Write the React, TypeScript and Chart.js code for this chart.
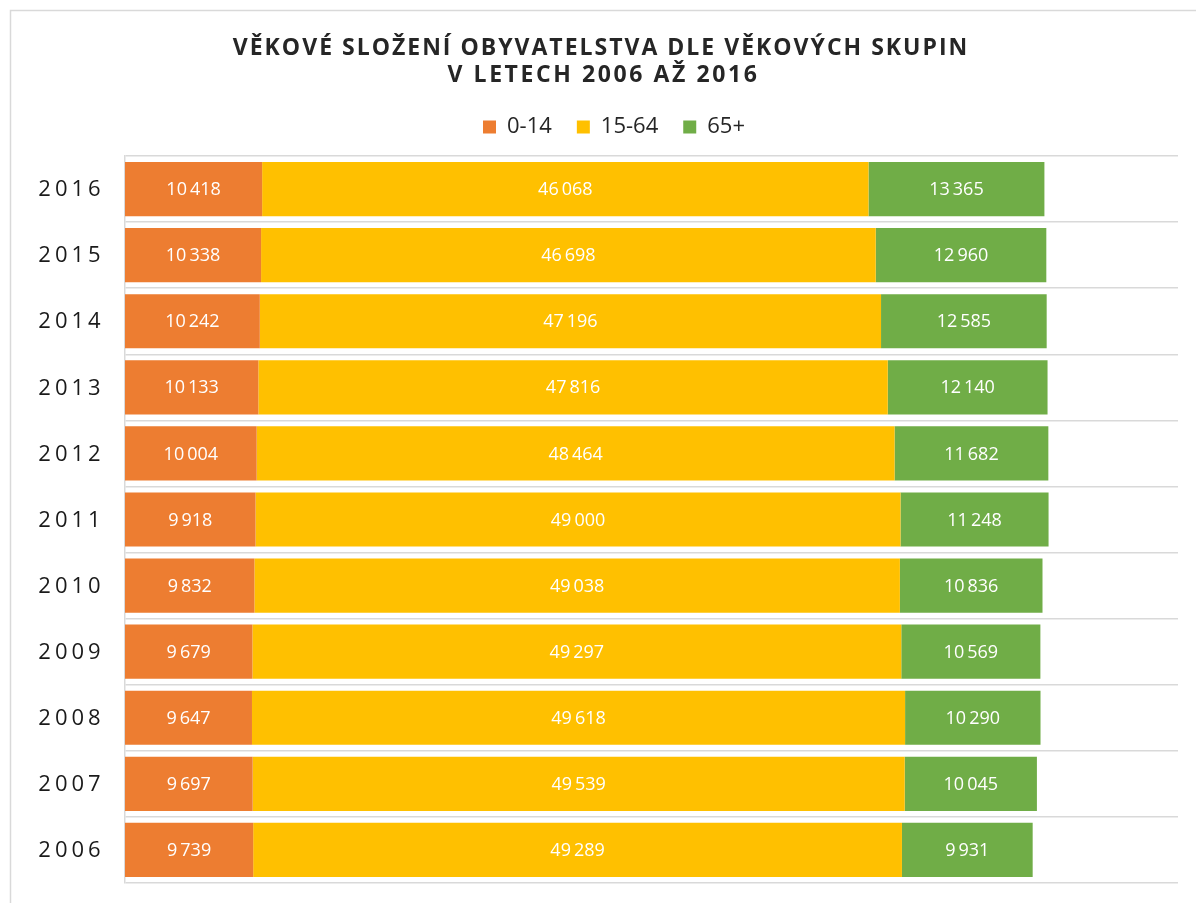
import React, { useEffect, useRef } from "react";
import { Chart, registerables } from "chart.js";

Chart.register(...registerables);

const titleLines = [
  "VĚKOVÉ SLOŽENÍ OBYVATELSTVA DLE VĚKOVÝCH SKUPIN",
  "V LETECH 2006 AŽ 2016",
];
const years = ["2016", "2015", "2014", "2013", "2012", "2011", "2010", "2009", "2008", "2007", "2006"];
const seriesNames = ["0-14", "15-64", "65+"];
const age0to14 = [10418, 10338, 10242, 10133, 10004, 9918, 9832, 9679, 9647, 9697, 9739];
const age15to64 = [46068, 46698, 47196, 47816, 48464, 49000, 49038, 49297, 49618, 49539, 49289];
const age65plus = [13365, 12960, 12585, 12140, 11682, 11248, 10836, 10569, 10290, 10045, 9931];
const seriesColors = ["#ED7D31", "#FFC000", "#70AD47"];

const fmt = (v: number) => String(v).replace(/\B(?=(\d{3})+(?!\d))/g, "\u2009");

const decorPlugin = {
  id: "decor",
  beforeDraw(chart: any) {
    const ctx = chart.ctx;
    ctx.save();
    ctx.strokeStyle = "#d9d9d9";
    ctx.lineWidth = 1.5;
    ctx.beginPath();
    ctx.moveTo(10.5, chart.height);
    ctx.lineTo(10.5, 10.5);
    ctx.lineTo(chart.width, 10.5);
    ctx.stroke();
    ctx.restore();
  },
  afterDatasetsDraw(chart: any) {
    const ctx = chart.ctx;
    ctx.save();
    ctx.font = '18px "Open Sans"';
    ctx.fillStyle = "#ffffff";
    ctx.textAlign = "center";
    ctx.textBaseline = "middle";
    chart.data.datasets.forEach((ds: any, di: number) => {
      const meta = chart.getDatasetMeta(di);
      meta.data.forEach((bar: any, i: number) => {
        const cx = (bar.x + bar.base) / 2;
        ctx.fillText(fmt(ds.data[i]), cx, bar.y + 1);
      });
    });
    ctx.restore();
  },
  afterDraw(chart: any) {
    const ctx = chart.ctx;
    const yScale = chart.scales.y;
    ctx.save();
    ctx.font = '22px "Open Sans"';
    ctx.fillStyle = "#1a1a1a";
    ctx.textAlign = "center";
    ctx.textBaseline = "middle";
    (ctx as any).letterSpacing = "4px";
    years.forEach((y, i) => {
      ctx.fillText(y, 71.5, yScale.getPixelForValue(i) + 1);
    });
    ctx.font = 'bold 23px "Open Sans"';
    ctx.fillStyle = "#262626";
    ctx.textBaseline = "alphabetic";
    (ctx as any).letterSpacing = "2px";
    ctx.fillText(titleLines[0], 601, 55);
    (ctx as any).letterSpacing = "2.6px";
    ctx.fillText(titleLines[1], 603.5, 82);
    ctx.restore();
  },
};

export default function App() {
  const ref = useRef<HTMLCanvasElement>(null);
  useEffect(() => {
    const prevMargin = document.body.style.margin;
    document.body.style.margin = "0";
    const chart = new Chart(ref.current!, {
      type: "bar",
      data: {
        labels: years,
        datasets: [
          { label: seriesNames[0], data: age0to14, backgroundColor: seriesColors[0] },
          { label: seriesNames[1], data: age15to64, backgroundColor: seriesColors[1] },
          { label: seriesNames[2], data: age65plus, backgroundColor: seriesColors[2] },
        ],
      },
      options: {
        indexAxis: "y",
        animation: false,
        responsive: false,
        devicePixelRatio: 1,
        categoryPercentage: 1,
        barPercentage: 0.82,
        layout: { padding: { top: 91, left: 50, right: 18, bottom: 20 } },
        scales: {
          x: {
            stacked: true,
            min: 0,
            max: 80000,
            position: "top",
            grid: { display: false },
            border: { display: false },
            ticks: { display: false },
            afterFit: (s: any) => {
              s.height = 8;
            },
          },
          y: {
            stacked: true,
            grid: { offset: true, color: "#d9d9d9", lineWidth: 1.5, drawTicks: false },
            border: { color: "#d9d9d9", width: 1.5 },
            ticks: { display: false },
            afterFit: (s: any) => {
              s.width = 75;
            },
          },
        },
        plugins: {
          legend: {
            position: "top",
            labels: {
              boxWidth: 13,
              boxHeight: 13,
              padding: 25,
              color: "#262626",
              font: { family: '"Open Sans"', size: 22 },
            },
          },
          tooltip: { enabled: false },
        },
      },
      plugins: [decorPlugin],
    } as any);
    return () => {
      chart.destroy();
      document.body.style.margin = prevMargin;
    };
  }, []);
  return <canvas ref={ref} width={1196} height={903} style={{ display: "block" }} />;
}
